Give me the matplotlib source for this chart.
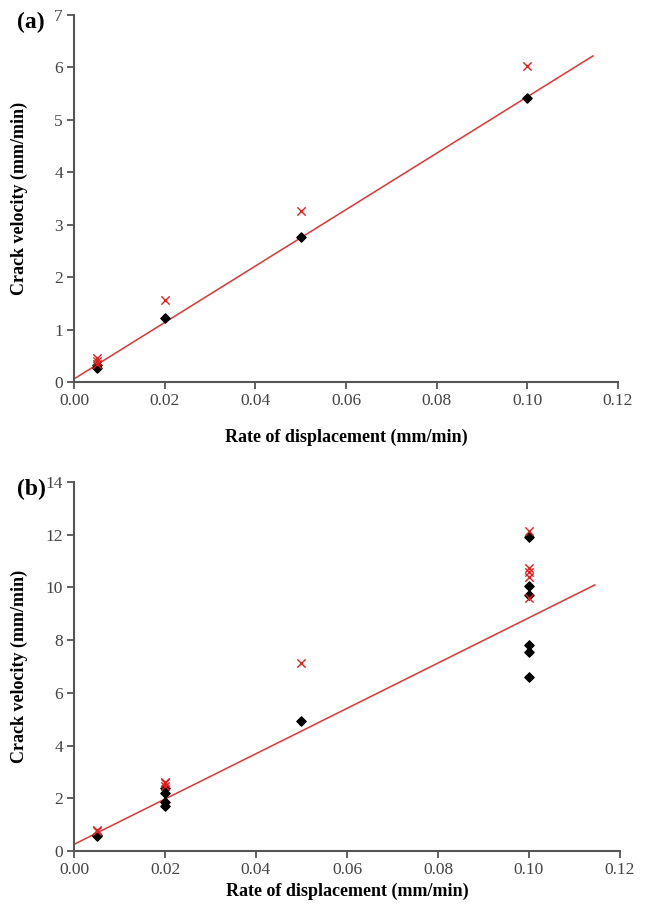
import matplotlib
matplotlib.use("Agg")
import matplotlib.pyplot as plt
import numpy as np

plt.rcParams['font.family'] = ['Liberation Serif', 'DejaVu Serif']

# panel (a)
a_black_x = [0.005, 0.005, 0.02, 0.05, 0.10]
a_black_y = [0.27, 0.32, 1.22, 2.76, 5.42]
a_red_x = [0.005, 0.005, 0.005, 0.02, 0.05, 0.10]
a_red_y = [0.35, 0.40, 0.45, 1.56, 3.26, 6.02]
a_fit = [0.06, 53.8]  # intercept, slope

# panel (b)
b_black_x = [0.005, 0.005, 0.02, 0.02, 0.02, 0.02, 0.05,
             0.10, 0.10, 0.10, 0.10, 0.10, 0.10]
b_black_y = [0.55, 0.62, 1.69, 1.85, 2.2, 2.37, 4.92,
             11.9, 10.05, 9.7, 7.8, 7.55, 6.6]
b_red_x = [0.005, 0.005, 0.02, 0.02, 0.02, 0.05,
           0.10, 0.10, 0.10, 0.10, 0.10]
b_red_y = [0.75, 0.81, 2.45, 2.56, 2.62, 7.12,
           12.15, 10.75, 10.58, 10.4, 9.6]
b_fit = [0.25, 86.0]

fit_x = [0.0, 0.1145]

fig = plt.figure(figsize=(6.46, 9.14), dpi=100)
ax_a = fig.add_axes([0.1146, 0.582, 0.842, 0.4016])
ax_b = fig.add_axes([0.1146, 0.069, 0.845, 0.4036])

panels = [
    (ax_a, a_black_x, a_black_y, a_red_x, a_red_y, a_fit, 7, 1, '(a)', 14),
    (ax_b, b_black_x, b_black_y, b_red_x, b_red_y, b_fit, 14, 2, '(b)', 3),
]

for ax, bx, by, rx, ry, fit, ymax, ystep, tag, xpad in panels:
    fx = np.array(fit_x)
    ax.plot(fx, fit[0] + fit[1] * fx, color='#e03535', lw=1.1, zorder=1)
    ax.scatter(bx, by, marker='D', s=22, color='black', zorder=2)
    ax.scatter(rx, ry, marker='x', s=36, color='#e02020', linewidths=1.0, zorder=3)

    ax.set_xlim(0, 0.12)
    ax.set_ylim(0, ymax)
    ax.set_xticks(np.arange(0, 0.121, 0.02))
    ax.set_xticklabels([f'{v:.2f}' for v in np.arange(0, 0.121, 0.02)])
    ax.set_yticks(np.arange(0, ymax + 0.1, ystep))

    for s in ['top', 'right']:
        ax.spines[s].set_visible(False)
    for s in ['left', 'bottom']:
        ax.spines[s].set_color('#555555')
        ax.spines[s].set_linewidth(1.5)
    ax.tick_params(direction='out', length=5, width=1.3, color='#555555',
                   labelsize=12.5, labelcolor='#444444', pad=3)

    ax.set_xlabel('Rate of displacement (mm/min)', fontsize=13, fontweight='bold',
                  labelpad=xpad)
    ax.set_ylabel('Crack velocity (mm/min)', fontsize=13, fontweight='bold')
    pos = ax.get_position()
    ax.yaxis.set_label_coords(0.044, (pos.y0 + pos.y1) / 2, transform=fig.transFigure)
    ax.text(0.026, pos.y1 - 0.008, tag, transform=fig.transFigure, fontsize=17,
            fontweight='bold', ha='left', va='center')

fig.savefig('out.png', dpi=100)
